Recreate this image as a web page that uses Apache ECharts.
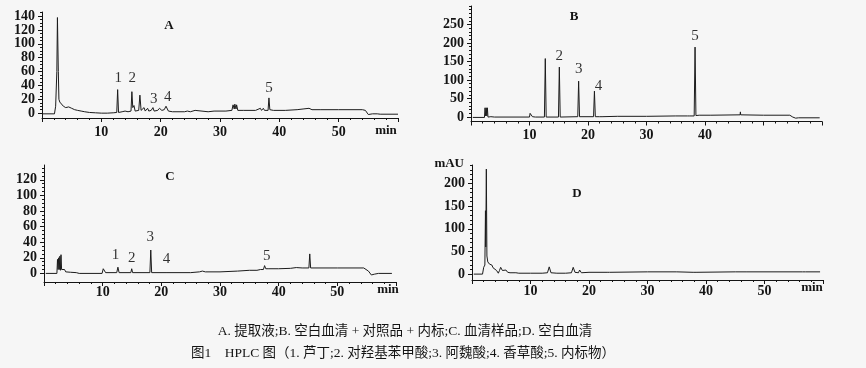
<!DOCTYPE html>
<html><head><meta charset="utf-8">
<script src="https://cdn.jsdelivr.net/npm/echarts@6/dist/echarts.min.js"></script>
<style>html,body{margin:0;padding:0;background:#f6f6f6;}#c{width:866px;height:368px;}</style>
</head><body><div id="c"></div>
<script>
// ---- data: [time (min), absorbance (mAU)] ----
const traceA = [[0,-1],[2.1,-1],[2.3,10],[2.5,60],[2.6,138],[2.75,60],[2.85,20],[3.0,16],[3.15,18],[3.3,14],[3.6,10],[4.0,8],[4.5,9],[5.0,7],[5.5,5],[6.0,4],[6.3,6],[6.6,3],[7.2,2],[7.5,3],[8,1],[9,0.5],[10,0],[11,0],[12,0.5],[12.6,1],[12.75,34],[12.9,1],[13.5,2],[14,3],[14.5,2],[15.0,3],[15.15,31],[15.3,8],[15.5,11],[15.7,3],[16.3,4],[16.5,26],[16.7,4],[17.0,4],[17.2,8],[17.4,3],[17.8,7],[18.0,3],[18.4,4],[18.7,8],[18.9,3],[19.5,4],[19.8,7],[20.2,4],[20.6,5],[20.9,10],[21.1,10],[21.3,3],[22,2],[24,2],[24.5,3],[25,2],[25.8,4],[26,2],[28,2],[29,3],[30,3],[31,3],[32,4],[32.2,12],[32.4,6],[32.5,13],[32.7,6],[32.8,12],[33,4],[34,4],[36,4],[36.8,7],[37,4],[37.3,7],[37.5,4],[38.1,4],[38.25,22],[38.4,5],[39,4],[41,4],[43,5],[44,6],[45,7],[45.5,5],[47,5],[50,5],[54,5],[54.5,4],[55,-2],[55.3,-4],[55.7,-1],[56.5,-1],[57,-1.5],[60,-1.5]];
const traceB = [[0.3,-1],[2.3,-1],[2.4,25],[2.5,3],[2.6,25],[2.7,3],[2.8,25],[2.9,0],[3.2,5],[3.4,1],[4,0],[10,0],[10.1,10],[10.3,11],[10.5,1],[11,0],[12.55,0],[12.7,158],[12.85,0],[14.95,0],[15.1,135],[15.25,0],[18.25,1],[18.4,97],[18.55,1],[20.95,1],[21.1,70],[21.25,1],[22.0,1],[22.2,6],[22.4,1],[25,2],[30,2],[35,3],[37,3],[37.2,5],[37.4,3],[38.15,3],[38.3,189],[38.45,4],[39,5],[41,5],[46,6],[46.05,14],[46.1,6],[50,5],[54.5,5],[55,0],[55.5,-3],[56,-2],[59.6,-2]];
const traceC = [[0.3,0],[2.2,0],[2.3,18],[2.4,5],[2.5,20],[2.6,5],[2.7,22],[2.8,4],[2.9,24],[3.0,5],[3.3,4],[3.5,5],[3.7,2],[4.5,1.5],[5.5,1],[6,0],[9.9,0],[10.1,6],[10.3,6],[10.5,1],[12.4,1],[12.6,8],[12.8,1],[14.8,1],[14.95,6],[15.1,1],[18.05,1],[18.2,30],[18.35,1],[20.8,1],[20.95,3],[21.1,1],[25,1],[26.5,2],[27,3],[27.5,2],[30,2],[33,3],[35,4],[36.3,4],[36.6,6],[36.9,5],[37.4,5],[37.6,10],[37.8,6],[38,7],[38.2,6],[40,6],[42,6.5],[43,7.5],[44,7],[45.15,7],[45.3,25],[45.45,7],[50,7],[54.5,7],[55.3,3],[55.8,-2],[56.3,-1],[57,0],[59.3,0]];
const traceD = [[0.3,0],[1.8,0],[2.0,15],[2.2,20],[2.3,140],[2.35,60],[2.45,232],[2.55,40],[2.7,27],[3.0,22],[3.4,20],[3.6,14],[3.9,12],[4.2,8],[4.5,2],[4.7,8],[4.9,15],[5.2,8],[5.5,5],[5.8,9],[6.1,4],[6.5,3],[7.5,3],[8,2],[10,2],[12,2],[12.9,3],[13.2,16],[13.5,3],[14.5,2],[16,2],[17,3],[17.3,15],[17.6,4],[18.2,3],[18.4,9],[18.7,3],[20,4],[23.1,4],[23.3,0],[23.5,4],[30,5],[35,5],[37.8,4],[38.0,0],[38.3,4],[45,5],[47,5],[47.1,7],[47.3,5],[56.5,5],[56.8,7],[57,5],[59.5,5]];

// peak number labels: [time, value, text]
const peaksA = [[12.85,50,'1'],[15.2,51,'2'],[18.83,20,'3'],[21.2,23.5,'4'],[38.25,35.6,'5']];
const peaksB = [[15.1,165,'2'],[18.4,129,'3'],[21.8,84,'4'],[38.3,218,'5']];
const peaksC = [[12.2,23,'1'],[14.95,20,'2'],[18.1,47,'3'],[20.9,19,'4'],[37.95,22,'5']];
const peaksD = [];

// tick labels
const xTicks = [10,20,30,40,50];
const xTicksB = [10,20,30,40];
const yTicksA = [0,20,40,60,80,100,120,140];
const yTicksB = [0,50,100,150,200,250];
const yTicksC = [0,20,40,60,80,100,120];
const yTicksD = [0,50,100,150,200];
const panelNames = ['A','B','C','D'];
const caption1 = 'A. 提取液;B. 空白血清 + 对照品 + 内标;C. 血清样品;D. 空白血清';
const caption2 = '图1　HPLC 图（1. 芦丁;2. 对羟基苯甲酸;3. 阿魏酸;4. 香草酸;5. 内标物）';

const SERIF = '"Liberation Serif","Times New Roman",serif';
const CAP = '"Liberation Serif","Noto Sans CJK SC",serif';
const INK = '#141414';

const panels = [
  {grid:{left:42,top:12,width:356,height:106}, ymin:-7, ymax:146, yt:yTicksA, minorStep:5, xt:xTicks, xm:7, trace:traceA, peaks:peaksA},
  {grid:{left:471,top:6,width:351,height:115.5}, ymin:-12, ymax:300, yt:yTicksB, minorStep:10, xt:xTicksB, xm:7, trace:traceB, peaks:peaksB},
  {grid:{left:44,top:165,width:352,height:117}, ymin:-11, ymax:139, yt:yTicksC, minorStep:5, xt:xTicks, xm:3, trace:traceC, peaks:peaksC},
  {grid:{left:472,top:165,width:351,height:115}, ymin:-13, ymax:241, yt:yTicksD, minorStep:10, xt:xTicks, xm:4, trace:traceD, peaks:peaksD}
];

function minorVals(p){
  const out=[];
  for(let v=0; v<=p.ymax; v+=p.minorStep){ if(p.yt.indexOf(v)<0) out.push(v); }
  return out;
}

const grid=[], xAxis=[], yAxis=[], series=[];
panels.forEach((p,i)=>{
  grid.push(p.grid);
  xAxis.push({type:'value', gridIndex:i, min:0, max:60, interval:10,
    axisLine:{show:true, onZero:false, lineStyle:{color:INK,width:1}},
    axisTick:{show:true, length:4, lineStyle:{color:INK}},
    minorTick:{show:true, splitNumber:5, length:2, lineStyle:{color:INK}},
    splitLine:{show:false}, minorSplitLine:{show:false},
    axisLabel:{customValues:p.xt, margin:p.xm, color:INK, fontFamily:SERIF, fontSize:14, fontWeight:'bold'}});
  yAxis.push({type:'value', gridIndex:i, min:p.ymin, max:p.ymax,
    axisLine:{show:true, lineStyle:{color:INK,width:1}},
    axisTick:{show:true, customValues:p.yt, length:4, lineStyle:{color:INK}},
    splitLine:{show:false},
    axisLabel:{customValues:p.yt, margin:7, color:INK, fontFamily:SERIF, fontSize:14, fontWeight:'bold'}});
  yAxis.push({type:'value', gridIndex:i, position:'left', min:p.ymin, max:p.ymax,
    axisLine:{show:false},
    axisTick:{show:true, customValues:minorVals(p), length:2, lineStyle:{color:INK}},
    splitLine:{show:false}, axisLabel:{show:false}});
  series.push({type:'line', xAxisIndex:i, yAxisIndex:2*i, data:p.trace, showSymbol:false, symbol:'none',
    lineStyle:{color:'#1c1c1c', width:1}, silent:true});
  series.push({type:'scatter', xAxisIndex:i, yAxisIndex:2*i, symbolSize:0, data:p.peaks, silent:true,
    label:{show:true, position:'inside', formatter:d=>d.value[2], color:'#000', fontFamily:SERIF, fontSize:15}});
});

function txt(x,y,text,font,align){
  return {type:'text', x:x, y:y, silent:true,
    style:{text:text, font:font, fill:INK, align:align||'center', textAlign:align||'center', verticalAlign:'middle', textVerticalAlign:'middle'}};
}

const graphic = [
  txt(169,26,panelNames[0],'bold 13px '+SERIF),
  txt(574,17,panelNames[1],'bold 13px '+SERIF),
  txt(170,177,panelNames[2],'bold 13px '+SERIF),
  txt(577,194,panelNames[3],'bold 13px '+SERIF),
  txt(386,131,'min','bold 13px '+SERIF),
  txt(388,290,'min','bold 13px '+SERIF),
  txt(812,288,'min','bold 13px '+SERIF),
  txt(464,164,'mAU','bold 13px '+SERIF,'right'),
  txt(405,331,caption1,'13.5px '+CAP),
  txt(403,353,caption2,'13.5px '+CAP)
];

const chart = echarts.init(document.getElementById('c'), null, {renderer:'canvas'});
chart.setOption({animation:false, backgroundColor:'#f6f6f6', grid, xAxis, yAxis, series, graphic});
</script></body></html>
